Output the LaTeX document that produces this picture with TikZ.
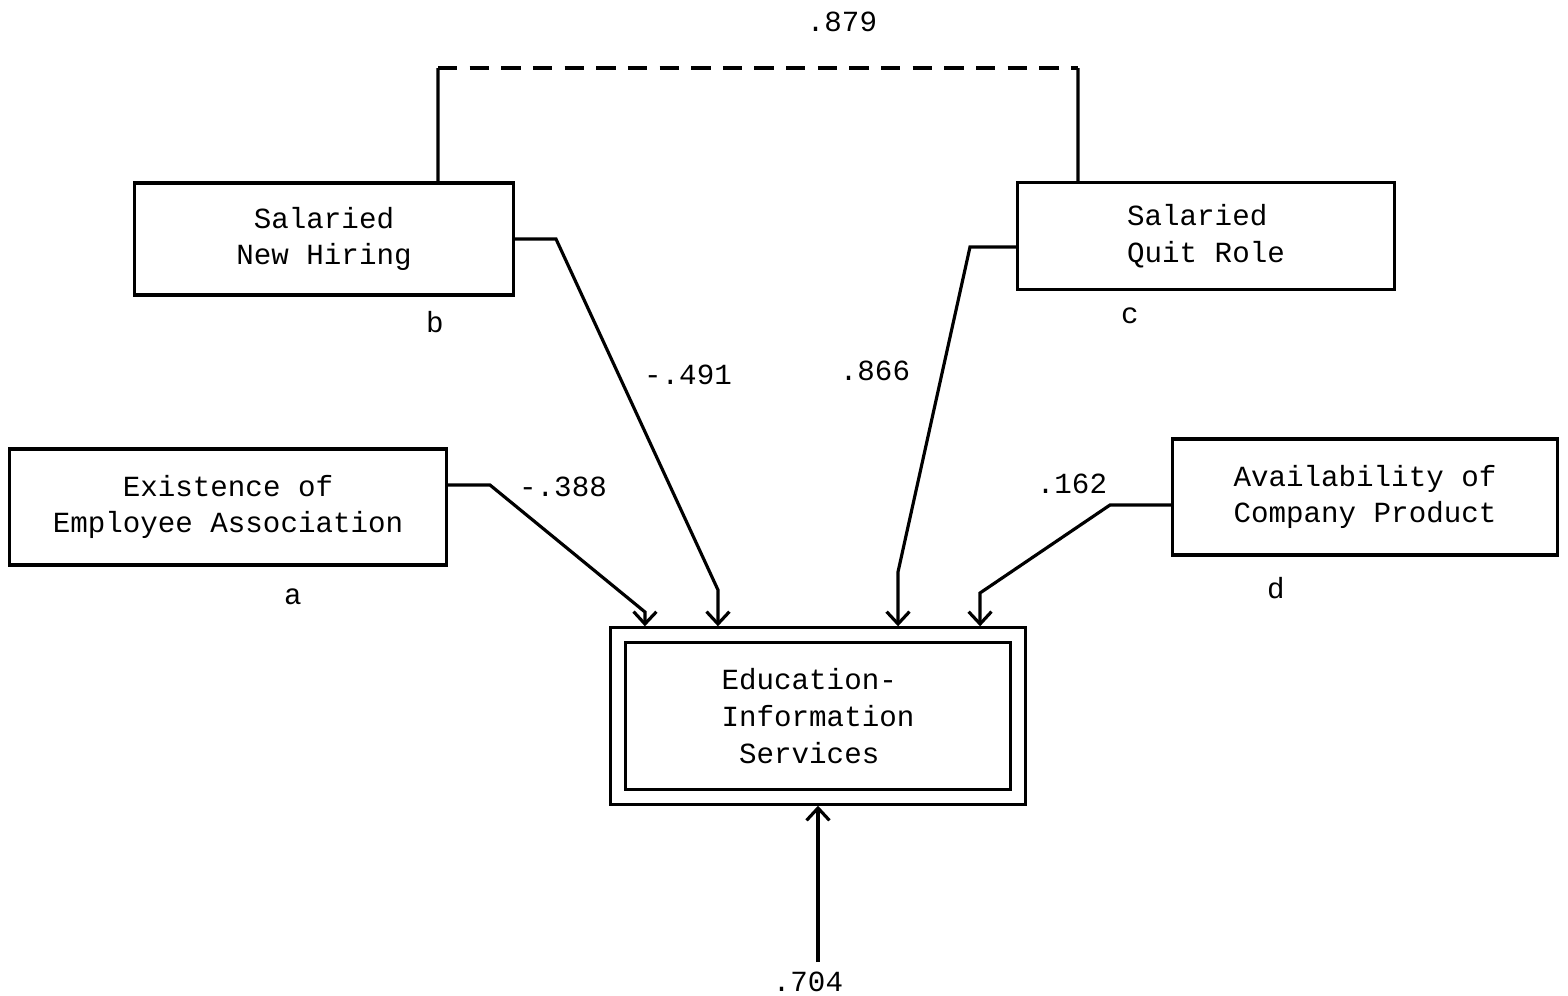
\documentclass[tikz,border=0pt]{standalone}
\usepackage{fontspec}
\setmainfont{Liberation Mono}
\usetikzlibrary{arrows.meta,positioning,fit}

\begin{document}
\begin{tikzpicture}[x=0.01cm, y=-0.01cm, >={Straight Barb[length=3.5pt,width=6.5pt]},
    every node/.style={font=\fontsize{8.3}{10.4}\selectfont},
    box/.style={draw, line width=0.9pt, inner sep=0pt},
    link/.style={line width=0.9pt},
    lbl/.style={inner sep=0pt}]
    \useasboundingbox (0,0) rectangle (1568,996);

    % Boxes
    \node[box, minimum width=3.78cm, minimum height=1.12cm, align=center] (nb) at (324,239) {Salaried\\New Hiring};
    \node[box, minimum width=3.77cm, minimum height=1.07cm, align=left] (nc) at (1206,236) {Salaried\\Quit Role};
    \node[box, minimum width=4.37cm, minimum height=1.16cm, align=center] (na) at (228,507) {Existence of\\Employee Association};
    \node[box, minimum width=3.85cm, minimum height=1.16cm, align=center] (nd) at (1365,497) {Availability of\\Company Product};
    \node[box, minimum width=3.85cm, minimum height=1.47cm, align=left] (eis) at (818,716) {Education-\\Information\\~Services};
    \node[box, fit=(eis), inner sep=0.13cm] (eisout) {};

    % Box letters
    \node[lbl] (la) at (293,597) {a};
    \node[lbl] (lb) at (435,322) {b};
    \node[lbl] (lc) at (1130,316) {c};
    \node[lbl] (ld) at (1276,588) {d};

    % Correlation b--c
    \coordinate (bcl) at (438,68);
    \coordinate (bcr) at (1078,68);
    \draw[link] ([xshift=1.14cm]nb.north) -- (bcl);
    \draw[link, dash pattern=on 5.5pt off 3.5pt] (bcl) -- (bcr);
    \draw[link] (bcr) -- ([xshift=-1.28cm]nc.north);
    \node[lbl] (rbc) at (842,22) {.879};

    % Paths
    \draw[->, link] ([yshift=0.22cm]na.east) -- (490,485) -- (645,612) -- ([xshift=-1.73cm]eisout.north);
    \draw[->, link] (nb.east) -- (556,239) -- (718,590) -- ([xshift=-1.00cm]eisout.north);
    \draw[->, link] ([yshift=-0.11cm]nc.west) -- (970,247) -- (898,572) -- ([xshift=0.80cm]eisout.north);
    \draw[->, link] ([yshift=-0.08cm]nd.west) -- (1110,505) -- (980,593) -- ([xshift=1.62cm]eisout.north);
    \node[lbl] (pa) at (563,487) {-.388};
    \node[lbl] (pb) at (688,375) {-.491};
    \node[lbl] (pc) at (875,371) {.866};
    \node[lbl] (pd) at (1072,484) {.162};

    % Residual
    \coordinate (res) at (818,962);
    \draw[->, link] (res) -- (eisout.south);
    \node[lbl] (pres) at (808,982) {.704};
\end{tikzpicture}
\end{document}
